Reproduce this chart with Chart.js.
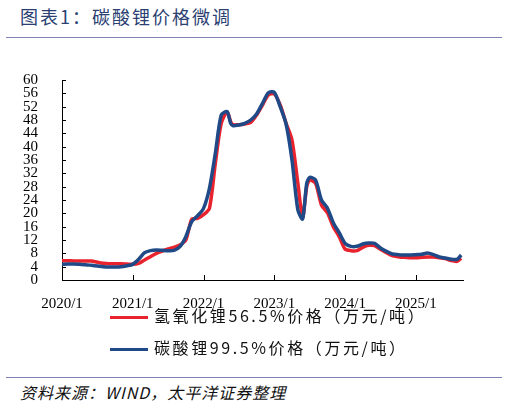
<!DOCTYPE html>
<html>
<head>
<meta charset="utf-8">
<script src="https://cdn.jsdelivr.net/npm/chart.js@4.4.1/dist/chart.umd.min.js"></script>
<style>
  html, body { margin: 0; padding: 0; background: #fff; }
  body { width: 507px; height: 405px; position: relative; overflow: hidden; }
  .title { position: absolute; left: 20px; top: 3px; font: 18px "Noto Sans CJK SC", sans-serif; letter-spacing: 2px; color: #2b3f73; }
  .rule { position: absolute; left: 6px; width: 496px; height: 0; border-top: 1.5px solid #7f83b3; }
  #wrap { position: absolute; left: 0; top: 55px; width: 507px; height: 255px; }
  .legend { position: absolute; left: 110px; font: 16px "Noto Sans CJK SC", sans-serif; letter-spacing: 2.6px; color: #111; }
  .legend span.swatch { display: inline-block; width: 38px; height: 3px; vertical-align: middle; margin-right: 6px; }
  .source { position: absolute; left: 20px; top: 380px; font: italic 16px "Noto Sans CJK SC", sans-serif; letter-spacing: 1px; color: #111; }
</style>
</head>
<body>
<div class="title">图表1：碳酸锂价格微调</div>
<div class="rule" style="top:37px"></div>
<div id="wrap"><canvas id="priceChart"></canvas></div>
<div class="legend" id="legend1" style="top:303px"></div>
<div class="legend" id="legend2" style="top:335px"></div>
<div class="rule" style="top:377px"></div>
<div class="source">资料来源：WIND，太平洋证券整理</div>

<script>
// months since 2020/1
const months = [0, 1, 2, 3, 4, 5, 6, 7, 8, 9, 10, 11, 12, 13, 14, 15, 16, 17, 18, 19,
    20, 21, 22, 23, 24, 25, 26, 27, 28, 28.6, 29, 30, 31, 32, 33, 34, 35, 36, 37, 38,
    39, 40, 40.8, 41.5, 42, 43, 44, 45, 46, 47, 48, 49, 50, 51, 52, 53, 54, 55, 56, 57,
    58, 59, 60, 61, 62, 63, 64, 65, 66, 67, 67.7];

// 氢氧化锂56.5% (万元/吨)
const lithiumHydroxide = [5.8, 5.8, 5.7, 5.7, 5.7, 5.7, 5.3, 5.0, 4.9, 4.9, 4.9, 4.8, 4.7, 5.0, 6.0, 7.0, 8.0, 8.7, 9.3, 9.8,
    10.5, 12.0, 18.2, 18.5, 19.6, 21.5, 35.0, 47.0, 50.5, 47.5, 46.6, 46.6, 46.8, 47.3, 49.5, 52.5, 55.5, 55.8, 52.5, 47.0,
    42.0, 29.0, 18.7, 28.0, 30.0, 29.0, 22.5, 20.2, 16.0, 13.0, 9.3, 8.8, 8.8, 9.8, 10.4, 10.3, 9.2, 8.2, 7.3, 7.0,
    6.8, 6.7, 6.7, 6.8, 6.9, 6.9, 6.7, 6.4, 5.8, 5.6, 6.5];

// 碳酸锂99.5% (万元/吨)
const lithiumCarbonate = [4.7, 4.8, 4.8, 4.7, 4.6, 4.4, 4.2, 4.0, 3.9, 3.9, 4.0, 4.3, 4.7, 6.2, 8.2, 8.8, 9.0, 8.9, 8.8, 8.9,
    10.0, 13.0, 17.5, 19.3, 21.5, 27.5, 38.0, 49.5, 50.5, 47.0, 46.3, 46.5, 47.0, 48.0, 49.8, 53.0, 56.2, 56.3, 52.0, 46.8,
    36.0, 21.0, 18.3, 29.0, 30.8, 30.0, 24.0, 21.6, 17.2, 14.2, 11.0, 10.1, 10.1, 10.8, 11.1, 11.0, 9.6, 8.6, 7.8, 7.6,
    7.5, 7.5, 7.6, 7.7, 8.1, 7.6, 6.9, 6.6, 6.2, 6.2, 7.5];

const tickMonths = [0, 12, 24, 36, 48, 60];
const tickLabels = ['2020/1', '2021/1', '2022/1', '2023/1', '2024/1', '2025/1'];

// order: lower number is drawn on top (blue over red)
const seriesInfo = [
    { label: '氢氧化锂56.5%价格（万元/吨）', values: lithiumHydroxide, color: '#E8232E', order: 2 },
    { label: '碳酸锂99.5%价格（万元/吨）', values: lithiumCarbonate, color: '#1F4A87', order: 1 }
];

// short tick marks pointing into the plot
const innerTicks = {
    id: 'innerTicks',
    afterDraw(chart) {
        const { ctx } = chart;
        const xs = chart.scales.x, ys = chart.scales.y;
        ctx.save();
        ctx.strokeStyle = '#000';
        ctx.lineWidth = 1;
        ctx.beginPath();
        xs.ticks.forEach(t => {
            const px = Math.round(xs.getPixelForValue(t.value)) + 0.5;
            ctx.moveTo(px, ys.bottom);
            ctx.lineTo(px, ys.bottom - 5);
        });
        ys.ticks.forEach(t => {
            const py = Math.round(ys.getPixelForValue(t.value)) + 0.5;
            ctx.moveTo(xs.left, py);
            ctx.lineTo(xs.left + 4, py);
        });
        ctx.stroke();
        ctx.restore();
    }
};

function buildLegend() {
    seriesInfo.forEach((s, i) => {
        const el = document.getElementById('legend' + (i + 1));
        el.innerHTML = '<span class="swatch" style="background:' + s.color + '"></span>' + s.label;
    });
}

function initializeChart() {
    const ctx = document.getElementById('priceChart');
    new Chart(ctx, {
        type: 'line',
        data: {
            datasets: seriesInfo.map(s => ({
                label: s.label,
                data: months.map((m, i) => ({ x: m, y: s.values[i] })),
                borderColor: s.color,
                borderWidth: 3.5,
                pointRadius: 0,
                fill: false,
                tension: 0.25,
                order: s.order
            }))
        },
        options: {
            responsive: true,
            maintainAspectRatio: false,
            animation: false,
            layout: { padding: { top: 17, right: 44, left: 0, bottom: 0 } },
            plugins: {
                legend: { display: false },
                tooltip: { enabled: false }
            },
            scales: {
                x: {
                    type: 'linear',
                    min: 0,
                    max: 68,
                    grid: { display: false },
                    border: { color: '#000', width: 1 },
                    afterBuildTicks: axis => {
                        axis.ticks = tickMonths.map(v => ({ value: v }));
                    },
                    afterFit: axis => { axis.height = 30; },
                    ticks: {
                        autoSkip: false,
                        maxRotation: 0,
                        padding: 7,
                        color: '#000',
                        font: { family: 'Liberation Serif', size: 15 },
                        callback: value => {
                            const i = tickMonths.indexOf(value);
                            return i >= 0 ? tickLabels[i] : '';
                        }
                    }
                },
                y: {
                    min: 0,
                    max: 60,
                    grid: { display: false },
                    border: { color: '#000', width: 1 },
                    afterFit: axis => { axis.width = 62; },
                    ticks: {
                        stepSize: 4,
                        autoSkip: false,
                        padding: 16,
                        color: '#000',
                        font: { family: 'Liberation Serif', size: 15 }
                    }
                }
            }
        },
        plugins: [innerTicks]
    });
}

buildLegend();
initializeChart();
</script>
</body>
</html>
